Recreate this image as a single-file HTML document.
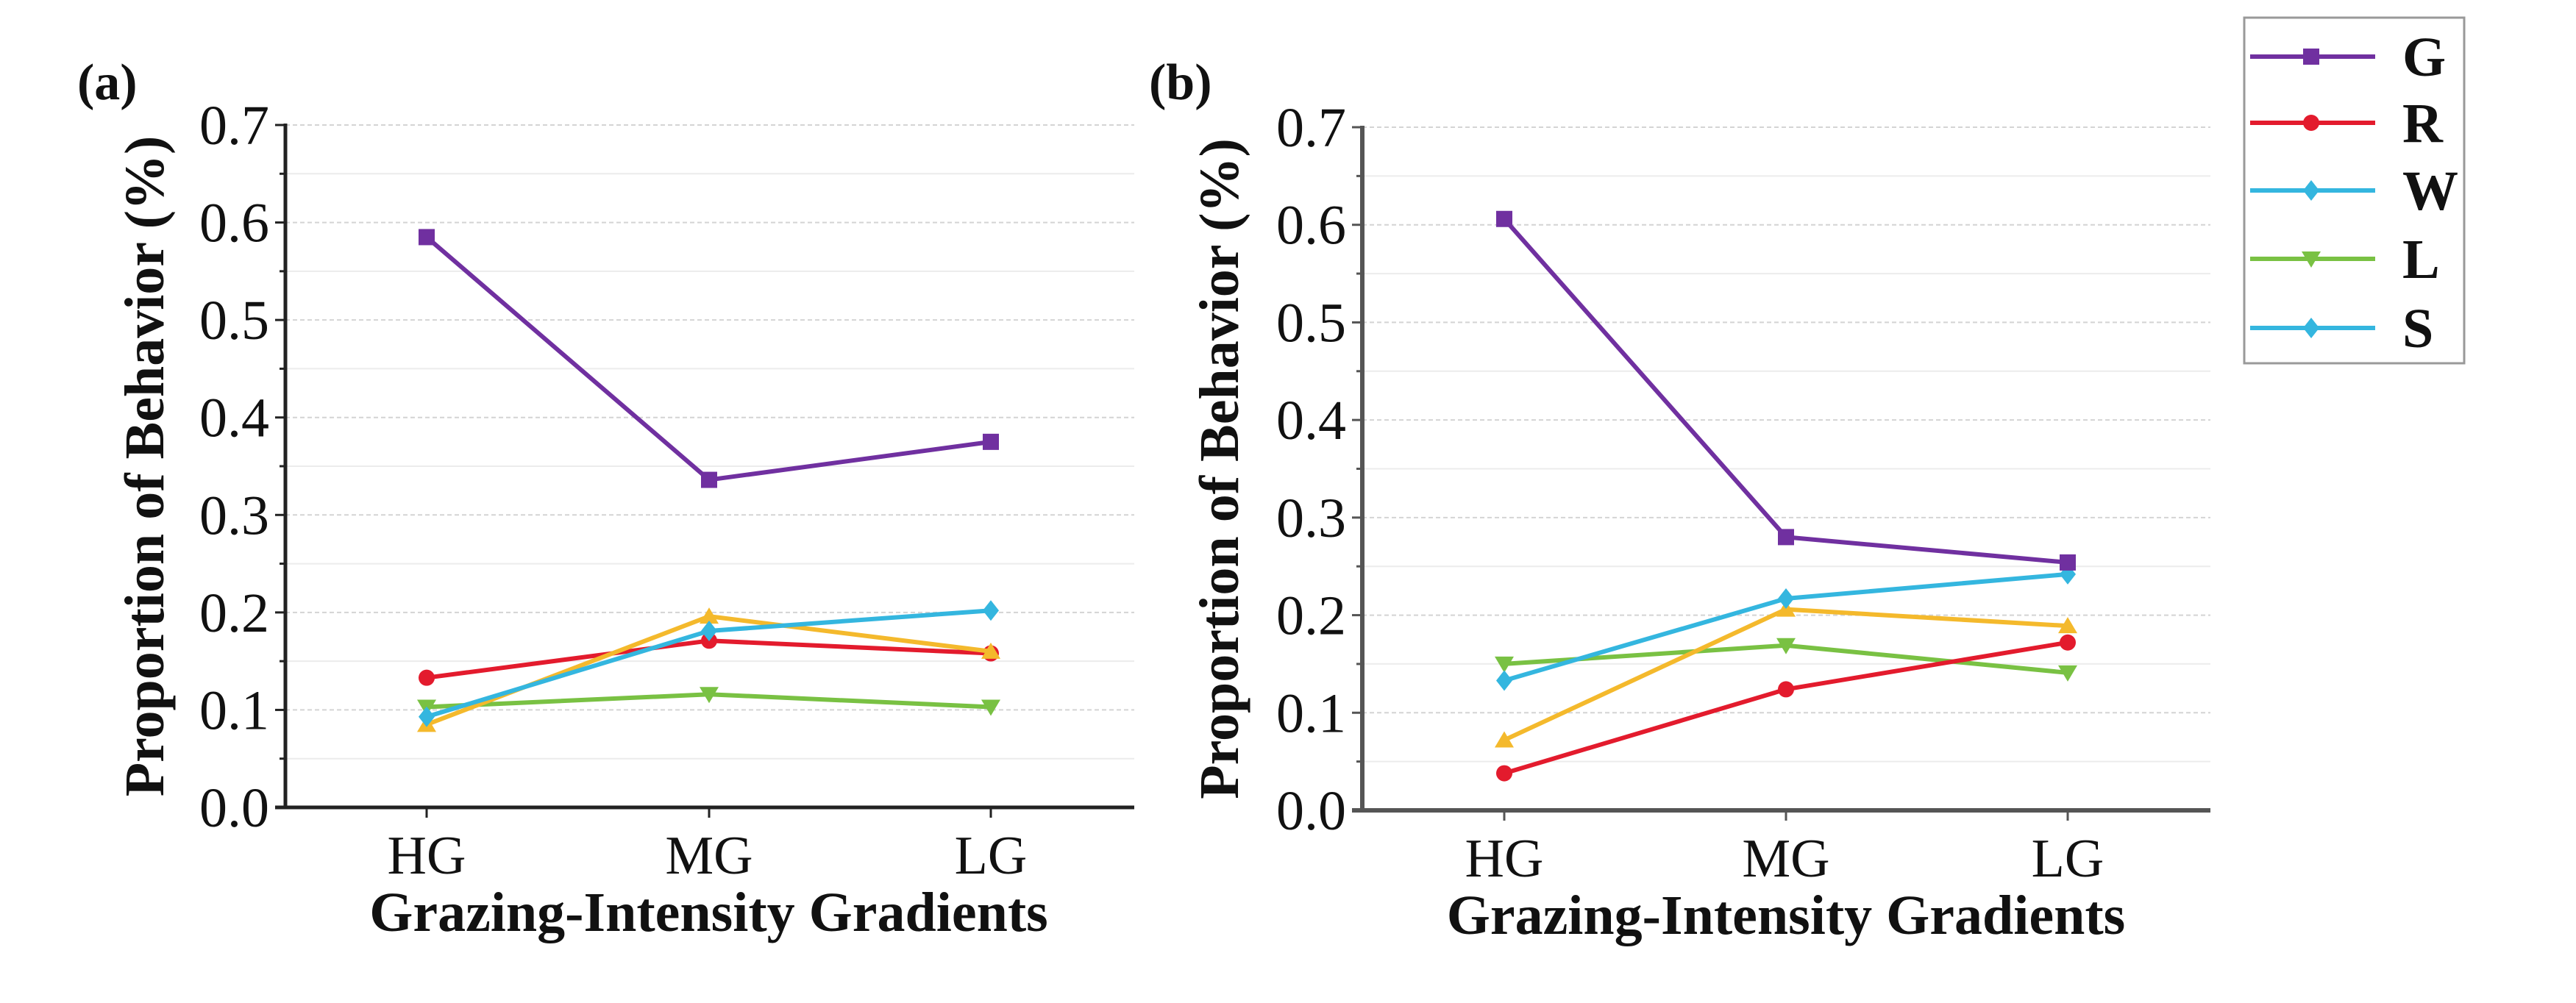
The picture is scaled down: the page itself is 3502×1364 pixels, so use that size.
<!DOCTYPE html>
<html><head><meta charset="utf-8"><style>
html,body{margin:0;padding:0;background:#fff;width:3502px;height:1364px;overflow:hidden}
svg{display:block;font-family:"Liberation Serif",serif}
</style></head><body>
<svg id="chart" width="3502" height="1364" viewBox="0 0 3502 1364" xmlns="http://www.w3.org/2000/svg">
<g>
<rect x="3051" y="24" width="299" height="470" fill="#fff" stroke="#999" stroke-width="3"/>
<g id="legend-items"></g>
</g>
</svg>
<script>
const categories = ["HG","MG","LG"];
const seriesNames = ["G","R","W","L","S"];
const yTicks = ["0.0","0.1","0.2","0.3","0.4","0.5","0.6","0.7"];
const aG = [0.585,0.336,0.375];
const aR = [0.133,0.171,0.158];
const aW = [0.093,0.181,0.202];
const aL = [0.103,0.116,0.103];
const aS = [0.085,0.196,0.160];
const bG = [0.606,0.280,0.254];
const bR = [0.038,0.124,0.172];
const bW = [0.133,0.217,0.242];
const bL = [0.150,0.169,0.141];
const bS = [0.072,0.206,0.189];

const NS="http://www.w3.org/2000/svg";
const svg=document.getElementById('chart');
function mk(tag,attrs,parent){const e=document.createElementNS(NS,tag);for(const k in attrs)e.setAttribute(k,attrs[k]);(parent||svg).appendChild(e);return e;}
const colors={G:"#7030a0",R:"#e31b2d",W:"#34b6df",L:"#79c143",S:"#f4b92c"};
const markers={G:"square",R:"circle",W:"diamond",L:"tri-down",S:"tri-up"};
function marker(type,x,y,c,parent){
  const s=11;
  if(type==="square") return mk('rect',{x:x-s,y:y-s,width:2*s,height:2*s,fill:c},parent);
  if(type==="circle") return mk('circle',{cx:x,cy:y,r:s,fill:c},parent);
  if(type==="diamond") return mk('polygon',{points:`${x},${y-14} ${x+11},${y} ${x},${y+14} ${x-11},${y}`,fill:c},parent);
  if(type==="tri-down") return mk('polygon',{points:`${x-13},${y-10} ${x+13},${y-10} ${x},${y+12}`,fill:c},parent);
  return mk('polygon',{points:`${x-13},${y+10} ${x+13},${y+10} ${x},${y-12}`,fill:c},parent);
}
function panel(cfg){
  const g=mk('g',{});
  
  
  const yS=v=>cfg.y0-(cfg.y0-cfg.y7)*v/0.7;
  const xS=i=>cfg.xs[i];
  for(let k=1;k<=14;k++){
    const v=k*0.05;const y=yS(v);
    const gl=mk('line',{x1:cfg.ax,x2:cfg.ax2,y1:y,y2:y,stroke:k%2?"#ececec":"#d4d4d4","stroke-width":2,"stroke-dasharray":k%2?"":"6 4"},g);
    
    
    const t=mk('line',{x1:cfg.ax-(k%2?8:14),x2:cfg.ax,y1:y,y2:y,stroke:cfg.axc,"stroke-width":3},g);
    
    
  }
  yTicks.forEach((lab,i)=>{
    const t=mk('text',{x:cfg.ax-22,y:yS(i*0.1)+26,"text-anchor":"end","font-size":76,fill:"#111"},g);
    t.textContent=lab;
    
    
  });
  const ya=mk('line',{x1:cfg.ax,x2:cfg.ax,y1:cfg.y7-2,y2:cfg.y0+2,stroke:cfg.axc,"stroke-width":cfg.aw},g);
  
  
  const xa=mk('line',{x1:cfg.ax-14,x2:cfg.ax2,y1:cfg.y0,y2:cfg.y0,stroke:cfg.axc,"stroke-width":cfg.aw},g);
  
  
  categories.forEach((c,i)=>{
    const t=mk('line',{x1:xS(i),x2:xS(i),y1:cfg.y0,y2:cfg.y0+14,stroke:cfg.axc,"stroke-width":3},g);
    
    
    const l=mk('text',{x:xS(i),y:cfg.y0+90,"text-anchor":"middle","font-size":74,fill:"#111"},g);
    l.textContent=c;
    
    
  });
  const xt=mk('text',{x:(xS(0)+xS(2))/2,y:cfg.y0+168,"text-anchor":"middle","font-size":76,"font-weight":"bold",fill:"#111"},g);
  xt.textContent="Grazing-Intensity Gradients";
  
  
  const yt=mk('text',{x:0,y:0,"text-anchor":"middle","font-size":76,"font-weight":"bold",fill:"#111",transform:`translate(${cfg.ytx},${(cfg.y0+cfg.y7)/2}) rotate(-90)`},g);
  yt.textContent="Proportion of Behavior (%)";
  
  
  const pl=mk('text',{x:cfg.px,y:135,"font-size":70,"font-weight":"bold",fill:"#111"},g);
  pl.textContent=cfg.label;
  
  
  const order=["L","R","S","W","G"];
  order.forEach(n=>{
    const vals=cfg.data[n];
    const pts=vals.map((v,i)=>`${xS(i)},${yS(v)}`).join(' ');
    const ln=mk('polyline',{points:pts,fill:"none",stroke:colors[n],"stroke-width":6,"stroke-linejoin":"round"},g);
    
    
    vals.forEach((v,i)=>{
      const m=marker(markers[n],xS(i),yS(v),colors[n],g);
      
      
    });
  });
}
panel({name:"panel-a",label:"(a)",px:105,ax:388,ax2:1542,y0:1098,y7:170,xs:[580,964,1347],ytx:222,axc:"#222",aw:5,
  data:{G:aG,R:aR,W:aW,L:aL,S:aS}});
panel({name:"panel-b",label:"(b)",px:1562,ax:1852,ax2:3005,y0:1102,y7:173,xs:[2045,2428,2811],ytx:1683,axc:"#555",aw:6,
  data:{G:bG,R:bR,W:bW,L:bL,S:bS}});
const lg=document.getElementById('legend-items');
const legendColors=[colors.G,colors.R,colors.W,colors.L,colors.W];
const legendMarkers=["square","circle","diamond","tri-down","diamond"];
const ly=[77,167,259,352,446];
seriesNames.forEach((n,i)=>{
  const l=mk('line',{x1:3059,x2:3229,y1:ly[i],y2:ly[i],stroke:legendColors[i],"stroke-width":6},lg);
  
  
  const m=marker(legendMarkers[i],3142,ly[i],legendColors[i],lg);
  
  
  const t=mk('text',{x:3266,y:ly[i]+26,"font-size":76,"font-weight":"bold",fill:"#111"},lg);
  t.textContent=n;
  
  
});
</script>
</body></html>
